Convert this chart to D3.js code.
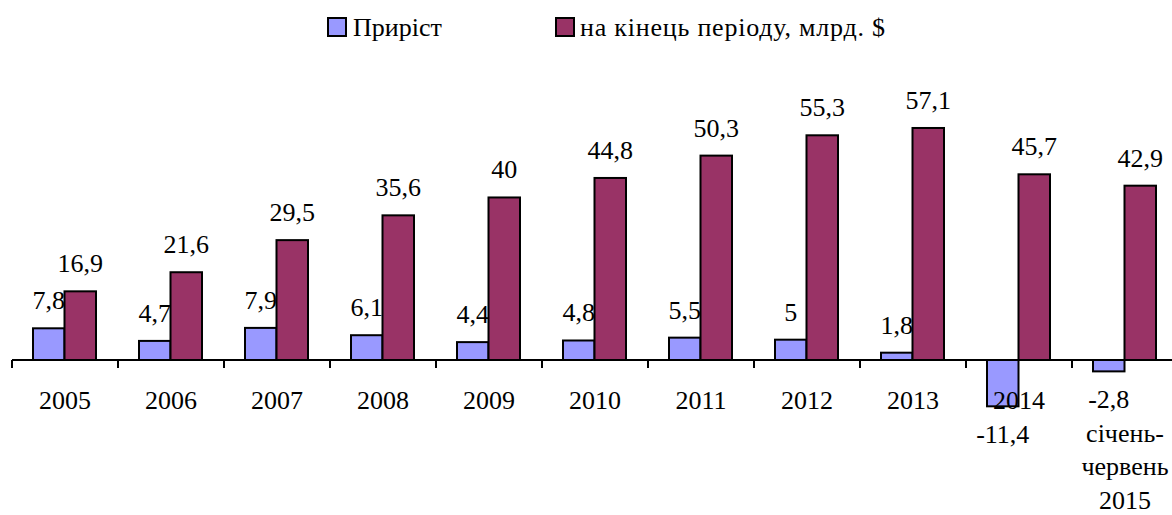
<!DOCTYPE html>
<html>
<head>
<meta charset="utf-8">
<script src="https://cdn.jsdelivr.net/npm/d3@7"></script>
<style>
html,body{margin:0;padding:0;background:#fff;}
svg{display:block;}
svg text{font-family:"Liberation Serif","Times New Roman",Tinos,"DejaVu Serif",serif;}
</style>
</head>
<body>
<svg id="chart" width="1172" height="515"></svg>
<script>
const categories = ["2005","2006","2007","2008","2009","2010","2011","2012","2013","2014","січень-червень 2015"];
const categoryLines = [["2005"],["2006"],["2007"],["2008"],["2009"],["2010"],["2011"],["2012"],["2013"],["2014"],["","січень-","червень","2015"]];
const seriesNames = ["Приріст","на кінець періоду, млрд. $"];
const growth = [7.8,4.7,7.9,6.1,4.4,4.8,5.5,5,1.8,-11.4,-2.8];
const endOfPeriod = [16.9,21.6,29.5,35.6,40,44.8,50.3,55.3,57.1,45.7,42.9];
const colors = ["#9999FF","#993366"];

const FONT = "'Liberation Serif', 'Times New Roman', Tinos, 'DejaVu Serif', serif";
const svg = d3.select("#chart");
const fmt = v => String(v).replace(".", ",");

const x0 = d3.scaleBand().domain(categories).range([12, 12 + 106 * categories.length]).padding(0);
const x1 = d3.scaleBand().domain(seriesNames).range([21, 84]).padding(0);
const y = d3.scaleLinear().domain([0, 60]).range([360, 116.2]);

const data = categories.map((c, i) => ({cat: c, vals: [growth[i], endOfPeriod[i]]}));

const groups = svg.append("g").selectAll("g").data(data).join("g")
  .attr("transform", d => `translate(${x0(d.cat)},0)`);

groups.selectAll("rect").data(d => d.vals.map((v, k) => ({v, k}))).join("rect")
  .attr("x", d => x1(seriesNames[d.k]))
  .attr("width", x1.bandwidth())
  .attr("y", d => Math.min(y(d.v), y(0)))
  .attr("height", d => Math.abs(y(d.v) - y(0)))
  .attr("fill", d => colors[d.k])
  .attr("stroke", "#000")
  .attr("stroke-width", 2);

groups.selectAll("text.val").data(d => d.vals.map((v, k) => ({v, k}))).join("text")
  .attr("class", "val")
  .attr("x", d => x1(seriesNames[d.k]) + x1.bandwidth() / 2)
  .attr("y", d => d.v >= 0 ? y(d.v) - 19 : y(d.v) + 37)
  .attr("text-anchor", "middle")
  .attr("font-family", FONT)
  .attr("font-size", 26)
  .attr("fill", "#000")
  .text(d => fmt(d.v));

// axis
const axis = svg.append("g");
axis.append("line").attr("x1", 12).attr("x2", 1172).attr("y1", y(0)).attr("y2", y(0))
  .attr("stroke", "#000").attr("stroke-width", 2);
const tickXs = categories.map(c => x0(c)).concat([x0.range()[1]]);
axis.selectAll("line.tick").data(tickXs).join("line").attr("class", "tick")
  .attr("x1", d => d).attr("x2", d => d).attr("y1", y(0)).attr("y2", y(0) + 8)
  .attr("stroke", "#000").attr("stroke-width", 2);
axis.selectAll("text.cat").data(categories).join("text").attr("class", "cat")
  .attr("x", c => x0(c) + x0.bandwidth() / 2)
  .attr("y", 409)
  .attr("text-anchor", "middle")
  .attr("font-family", FONT)
  .attr("font-size", 26)
  .each(function(c, i) {
    const t = d3.select(this);
    categoryLines[i].forEach((ln, j) => {
      t.append("tspan").attr("x", x0(c) + x0.bandwidth() / 2).attr("y", 409 + j * 33.2).text(ln);
    });
  });

// legend
const lg = svg.append("g");
const e1 = lg.append("g").attr("transform", "translate(328,18)");
e1.append("rect").attr("width", 18).attr("height", 18)
  .attr("fill", colors[0]).attr("stroke", "#000").attr("stroke-width", 2);
e1.append("text").attr("x", 25).attr("y", 18).attr("font-family", FONT).attr("font-size", 26).text(seriesNames[0]);
const e2 = lg.append("g").attr("transform", "translate(556,18)");
e2.append("rect").attr("width", 18).attr("height", 18)
  .attr("fill", colors[1]).attr("stroke", "#000").attr("stroke-width", 2);
e2.append("text").attr("x", 24).attr("y", 18).attr("font-family", FONT).attr("font-size", 26)
  .attr("textLength", 305).attr("lengthAdjust", "spacing").text(seriesNames[1]);
</script>
</body>
</html>
